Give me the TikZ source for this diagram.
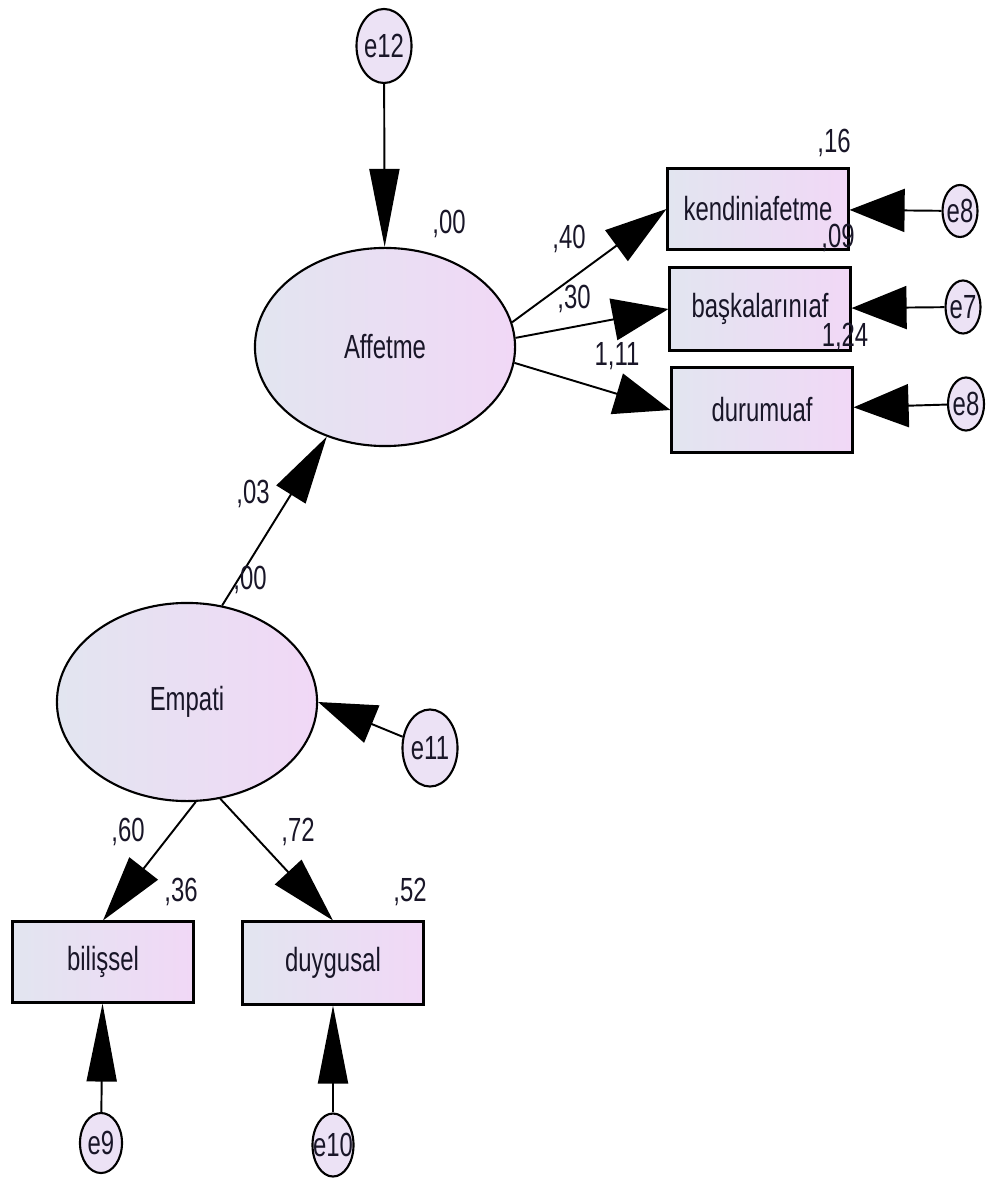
\documentclass[tikz,border=0pt]{standalone}
\usepackage{fontspec}
\setmainfont{Liberation Sans}
\usepackage{graphicx}
\usepackage{xcolor}
\usepackage{tikz}
\usetikzlibrary{shapes.geometric}
\usetikzlibrary{arrows.meta}

\definecolor{semleft}{RGB}{226,229,240}
\definecolor{semright}{RGB}{241,216,246}
\definecolor{errfill}{RGB}{236,226,245}
\definecolor{semtext}{RGB}{25,22,40}

\newcommand{\stx}[1]{\makebox[0pt]{\scalebox{1}[1.4]{#1}}}

\tikzset{
  latent/.style={ellipse, draw, line width=0.6pt, left color=semleft,
    right color=semright, inner sep=0pt, minimum width=2.6cm,
    minimum height=1.98cm},
  observed/.style={rectangle, draw, line width=0.85pt, left color=semleft,
    right color=semright, inner sep=0pt, minimum width=1.8cm,
    minimum height=0.8cm},
  errvar/.style={ellipse, draw, line width=0.6pt, fill=errfill, inner sep=0pt},
  estim/.style={inner sep=0pt, text=semtext},
  regarrow/.style 2 args={line width=0.55pt, -{Triangle[length=#1, width=#2]}}
}

\begin{document}
\begin{tikzpicture}[x=0.01cm, y=-0.01cm, font=\fontsize{6.8}{8}\selectfont, text=semtext]

\useasboundingbox (0,0) rectangle (990,1180);

 \node[latent] (affetme) at (385,347) {\stx{Affetme}};
 \node[latent] (empati) at (187,702) {\stx{Empati}};

 \node[observed] (kendini) at (758,209) {\stx{kendiniafetme}};
 \node[observed, minimum height=0.82cm] (baska) at (760,309) {\stx{başkalarınıaf}};
 \node[observed, minimum height=0.85cm] (durum) at (762,410) {\stx{durumuaf}};
 \node[observed] (bilis) at (103,962) {\stx{bilişsel}};
 \node[observed, minimum height=0.82cm] (duygu) at (333,963) {\stx{duygusal}};

 \node[errvar, minimum width=0.55cm, minimum height=0.74cm] (e12) at (384,46) {\stx{e12}};
 \node[errvar, minimum width=0.55cm, minimum height=0.77cm] (e11) at (430,748) {\stx{e11}};
 \node[errvar, minimum width=0.42cm, minimum height=0.6cm] (e9) at (101,1143) {\stx{e9}};
 \node[errvar, minimum width=0.41cm, minimum height=0.63cm] (e10) at (333,1145) {\stx{e10}};
 \node[errvar, minimum width=0.35cm, minimum height=0.52cm] (e8a) at (960,211) {\stx{e8}};
 \node[errvar, minimum width=0.35cm, minimum height=0.53cm] (e7) at (963,307) {\stx{e7}};
 \node[errvar, minimum width=0.36cm, minimum height=0.53cm] (e8b) at (966,404) {\stx{e8}};

 \draw[regarrow={0.78cm}{0.3cm}] (e12) -- (affetme);
 \draw[regarrow={0.62cm}{0.38cm}] (affetme.11) -- (kendini.west);
 \draw[regarrow={0.56cm}{0.42cm}] (affetme.4) -- (baska.west);
 \draw[regarrow={0.56cm}{0.42cm}] (affetme.353) -- (durum.west);
 \draw[regarrow={0.55cm}{0.43cm}] (e8a) -- (kendini);
 \draw[regarrow={0.55cm}{0.43cm}] (e7) -- (baska);
 \draw[regarrow={0.55cm}{0.43cm}] (e8b) -- (durum);
 \draw[regarrow={0.68cm}{0.34cm}] (empati.70) -- (affetme.237);
 \draw[regarrow={0.58cm}{0.4cm}] (e11) -- (empati.east);
 \draw[regarrow={0.66cm}{0.36cm}] (empati.275) -- (bilis.north);
 \draw[regarrow={0.66cm}{0.36cm}] (empati.289) -- (duygu.north);
 \draw[regarrow={0.78cm}{0.3cm}] (e9) -- (bilis);
 \draw[regarrow={0.78cm}{0.3cm}] (e10) -- (duygu);

 \node[estim] (r2aff) at (449,224) {\stx{,00}};
 \node[estim] (r2ken) at (834,143) {\stx{,16}};
 \node[estim] (r2bas) at (838,238) {\stx{,09}};
 \node[estim] (r2dur) at (845,337) {\stx{1,24}};
 \node[estim] (wken) at (569,239) {\stx{,40}};
 \node[estim] (wbas) at (574,299) {\stx{,30}};
 \node[estim] (wdur) at (617,356) {\stx{1,11}};
 \node[estim] (wemp) at (253,494) {\stx{,03}};
 \node[estim] (r2emp) at (250,580) {\stx{,00}};
 \node[estim] (wbil) at (128,832) {\stx{,60}};
 \node[estim] (wduy) at (298,832) {\stx{,72}};
 \node[estim] (r2bil) at (181,892) {\stx{,36}};
 \node[estim] (r2duy) at (410,892) {\stx{,52}};

\end{tikzpicture}
\end{document}
